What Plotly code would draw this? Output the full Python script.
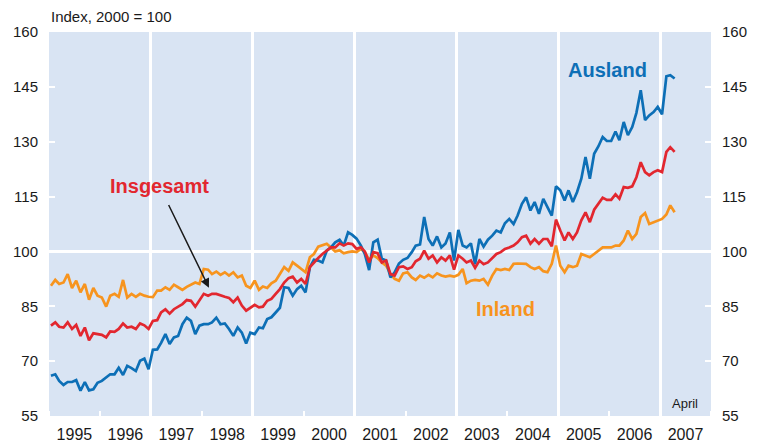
import pandas as pd
import plotly.graph_objects as go

# Monthly values, Jan 1995 - Apr 2007 (Index, 2000 = 100)
ausland = [66.0, 66.4, 64.6, 63.5, 64.3, 64.3, 64.8, 61.9, 64.3, 62.0, 62.3, 64.1,
           64.6, 65.5, 66.4, 66.4, 68.2, 66.2, 68.7, 68.1, 67.3, 70.1, 70.7, 67.8,
           73.1, 73.2, 75.0, 77.4, 74.7, 76.5, 76.9, 80.1, 81.9, 81.0, 77.4, 79.7,
           80.1, 80.1, 80.6, 81.9, 80.1, 80.3, 78.8, 76.9, 79.2, 77.8, 74.8, 77.8,
           77.4, 79.2, 79.0, 81.5, 82.0, 83.3, 84.6, 90.2, 90.0, 87.9, 89.7, 90.6,
           88.8, 95.7, 97.7, 97.5, 97.0, 100.2, 101.1, 102.5, 103.2, 101.6, 105.2, 104.5,
           103.5, 101.6, 99.3, 94.9, 102.5, 103.2, 98.0, 97.5, 92.9, 94.3, 96.7, 97.7,
           98.2, 99.8, 101.6, 101.9, 109.4, 103.4, 101.6, 104.1, 101.1, 102.2, 105.2, 97.5,
           105.9, 101.6, 101.1, 102.2, 96.5, 103.4, 101.3, 103.2, 104.3, 105.7, 105.2, 107.7,
           108.9, 107.5, 109.8, 113.0, 114.8, 111.2, 113.5, 110.3, 114.4, 112.1, 109.8, 117.8,
           116.7, 113.9, 116.7, 113.5, 116.2, 119.9, 125.8, 119.9, 126.7, 128.7, 131.3, 130.2,
           130.2, 132.8, 130.4, 135.4, 131.8, 134.0, 137.9, 144.1, 135.9, 137.2, 138.1, 139.5,
           137.5, 147.9, 148.2, 147.3]

insgesamt = [79.7, 80.6, 79.4, 79.2, 80.6, 78.8, 79.9, 76.9, 79.2, 75.7, 77.6, 77.4,
             77.2, 76.5, 78.1, 78.0, 78.8, 80.3, 79.2, 79.4, 78.8, 80.3, 79.8, 78.8,
             81.0, 81.2, 83.3, 84.2, 83.0, 84.2, 84.9, 85.6, 86.7, 86.5, 84.9, 86.5,
             88.4, 87.9, 88.4, 88.4, 87.9, 87.6, 87.3, 86.1, 87.4, 85.2, 83.8, 84.7,
             85.4, 84.7, 84.9, 86.5, 87.0, 88.4, 89.7, 91.5, 92.7, 93.1, 91.5, 92.5,
             91.1, 95.7, 97.0, 98.2, 99.3, 100.2, 101.1, 101.1, 102.2, 101.6, 102.2, 102.0,
             100.7, 101.1, 100.0, 97.0, 99.8, 99.5, 97.0, 97.5, 93.8, 93.4, 95.7, 95.9,
             95.2, 95.7, 97.3, 98.0, 100.2, 98.0, 98.9, 97.0, 98.4, 97.5, 98.9, 95.0,
             98.9, 98.0, 97.0, 97.5, 95.5, 97.5, 96.5, 97.0, 98.2, 99.3, 99.8, 100.7,
             101.1, 101.6, 102.5, 103.9, 104.3, 102.1, 103.4, 102.1, 103.4, 103.4, 101.4, 108.7,
             105.7, 103.0, 105.2, 103.4, 105.2, 108.5, 110.7, 108.0, 111.4, 113.0, 114.7, 114.1,
             114.1, 115.6, 114.4, 117.6, 117.4, 117.8, 120.3, 124.4, 121.7, 120.8, 121.7, 122.2,
             121.7, 127.2, 128.5, 127.2]

inland = [90.6, 92.2, 91.1, 91.5, 93.8, 90.0, 92.0, 88.8, 91.1, 86.8, 90.0, 87.9,
          87.4, 84.9, 87.9, 88.4, 87.6, 92.2, 87.4, 88.4, 87.6, 88.4, 87.9, 87.6,
          87.5, 89.3, 89.3, 90.2, 89.5, 90.9, 90.2, 89.5, 90.3, 90.9, 91.5, 91.1,
          95.2, 95.0, 93.8, 94.5, 93.6, 94.3, 93.4, 94.3, 92.9, 93.4, 90.6, 90.0,
          92.0, 89.5, 90.4, 90.0, 91.3, 92.0, 93.7, 95.7, 94.7, 97.0, 96.1, 95.2,
          94.3, 98.4, 99.3, 101.3, 101.8, 102.1, 101.1, 100.0, 100.3, 99.5, 99.8, 100.0,
          99.8, 100.7, 99.8, 97.7, 98.9, 98.2, 97.0, 96.1, 93.8, 92.5, 92.0, 94.0,
          94.3, 92.9, 92.2, 93.4, 92.8, 93.6, 92.9, 94.0, 93.4, 93.1, 93.4, 93.1,
          93.6, 95.2, 91.3, 92.0, 92.2, 92.0, 92.5, 90.9, 93.4, 95.2, 94.9, 95.2,
          94.9, 96.6, 96.7, 96.7, 96.6, 95.7, 95.2, 95.7, 94.6, 94.3, 96.6, 101.6,
          96.1, 94.3, 96.1, 95.7, 96.1, 99.3, 98.9, 98.4, 99.3, 100.2, 101.1, 101.1,
          101.1, 101.6, 101.6, 103.0, 105.7, 103.4, 104.8, 109.4, 110.5, 107.5, 108.0, 108.3,
          108.9, 110.1, 112.6, 110.7]

dates = pd.date_range("1995-01-01", periods=len(ausland), freq="MS") + pd.Timedelta(days=14)

years = list(range(1995, 2008))
year_labels = [str(y) for y in years]
year_mid = [f"{y}-07-02" for y in years]
grid_years = [f"{y}-01-01" for y in range(1997, 2008, 2)]
y_ticks = [55, 70, 85, 100, 115, 130, 145, 160]
base_level = [100]

BLUE = "#0d6fb6"
RED = "#e2272f"
ORANGE = "#f7941e"
BG = "#d9e4f3"
TXT = "#1a1a1a"
FONT = "Liberation Sans, Arial, sans-serif"
X_RANGE = ["1995-01-01", "2008-01-01"]
Y_RANGE = [55, 160]

fig = go.Figure()
fig.add_trace(go.Scatter(x=dates, y=inland, mode="lines", xaxis="x", yaxis="y",
                         line=dict(color=ORANGE, width=2.7), name="Inland"))
fig.add_trace(go.Scatter(x=dates, y=insgesamt, mode="lines", xaxis="x2", yaxis="y",
                         line=dict(color=RED, width=2.7), name="Insgesamt"))
fig.add_trace(go.Scatter(x=dates, y=ausland, mode="lines", xaxis="x", yaxis="y2",
                         line=dict(color=BLUE, width=2.7), name="Ausland"))

fig.update_layout(
    width=758, height=444,
    margin=dict(l=49, r=47, t=32, b=28, autoexpand=False),
    paper_bgcolor="white", plot_bgcolor=BG,
    showlegend=False,
    hovermode=False,
    font=dict(family=FONT, color=TXT),
    # main x: odd-year white gridlines + small white ticks at every year boundary
    xaxis=dict(type="date", range=X_RANGE, tickmode="array", tickvals=grid_years,
               showgrid=True, gridcolor="white", gridwidth=3, showticklabels=False,
               ticks="", zeroline=False, showline=False, automargin=False,
               minor=dict(dtick="M12", tick0="1996-01-01", ticks="inside", ticklen=5,
                          tickwidth=2, tickcolor="white", showgrid=False)),
    # overlay x: year labels centred in each year
    xaxis2=dict(type="date", range=X_RANGE, overlaying="x", anchor="y", side="bottom",
                tickmode="array", tickvals=year_mid, ticktext=year_labels,
                showgrid=False, ticks="", showline=False, zeroline=False, automargin=False,
                tickfont=dict(size=16, family=FONT, color=TXT), ticklabelstandoff=7),
    yaxis=dict(range=Y_RANGE, tickmode="array", tickvals=y_ticks, showgrid=False,
               zeroline=False, ticks="inside", ticklen=6, tickwidth=2, tickcolor="white",
               automargin=False,
               tickfont=dict(size=15, family=FONT, color=TXT), ticklabelstandoff=10,
               minor=dict(tickmode="array", tickvals=base_level, ticks="outside", ticklen=1,
                          tickcolor="white", showgrid=True, gridcolor="white", gridwidth=3)),
    yaxis2=dict(range=Y_RANGE, overlaying="y", side="right", anchor="x", tickmode="array",
                tickvals=y_ticks, showgrid=False, zeroline=False, ticks="inside", ticklen=6,
                tickwidth=2, tickcolor="white", automargin=False,
                tickfont=dict(size=15, family=FONT, color=TXT), ticklabelstandoff=10),
)

annotations = [
    dict(x="2005-12-20", y=149.6, xref="x", yref="y", text="<b>Ausland</b>", showarrow=False,
         font=dict(size=20, color=BLUE, family=FONT)),
    dict(x="1997-03-03", y=118.0, xref="x", yref="y", text="<b>Insgesamt</b>", showarrow=False,
         font=dict(size=20, color=RED, family=FONT)),
    dict(x="2003-12-22", y=84.3, xref="x", yref="y", text="<b>Inland</b>", showarrow=False,
         font=dict(size=20, color=ORANGE, family=FONT)),
    dict(x="2007-06-28", y=58.3, xref="x", yref="y", text="April", showarrow=False,
         font=dict(size=13, color=TXT, family=FONT)),
    dict(x=0.0, y=1.04, xref="paper", yref="paper", text="Index, 2000 = 100", showarrow=False,
         xanchor="left", yanchor="middle", font=dict(size=15, color=TXT, family=FONT)),
    dict(x="1998-02-21", y=90.1, ax="1997-05-03", ay=113.1, xref="x", yref="y",
         axref="x", ayref="y", text="", showarrow=True, arrowhead=2, arrowsize=1.2,
         arrowwidth=1.5, arrowcolor=TXT),
]
fig.update_layout(annotations=annotations)

fig.write_html("out.html", config={"displayModeBar": False, "staticPlot": True},
               post_script="document.body.style.margin='0px';")
